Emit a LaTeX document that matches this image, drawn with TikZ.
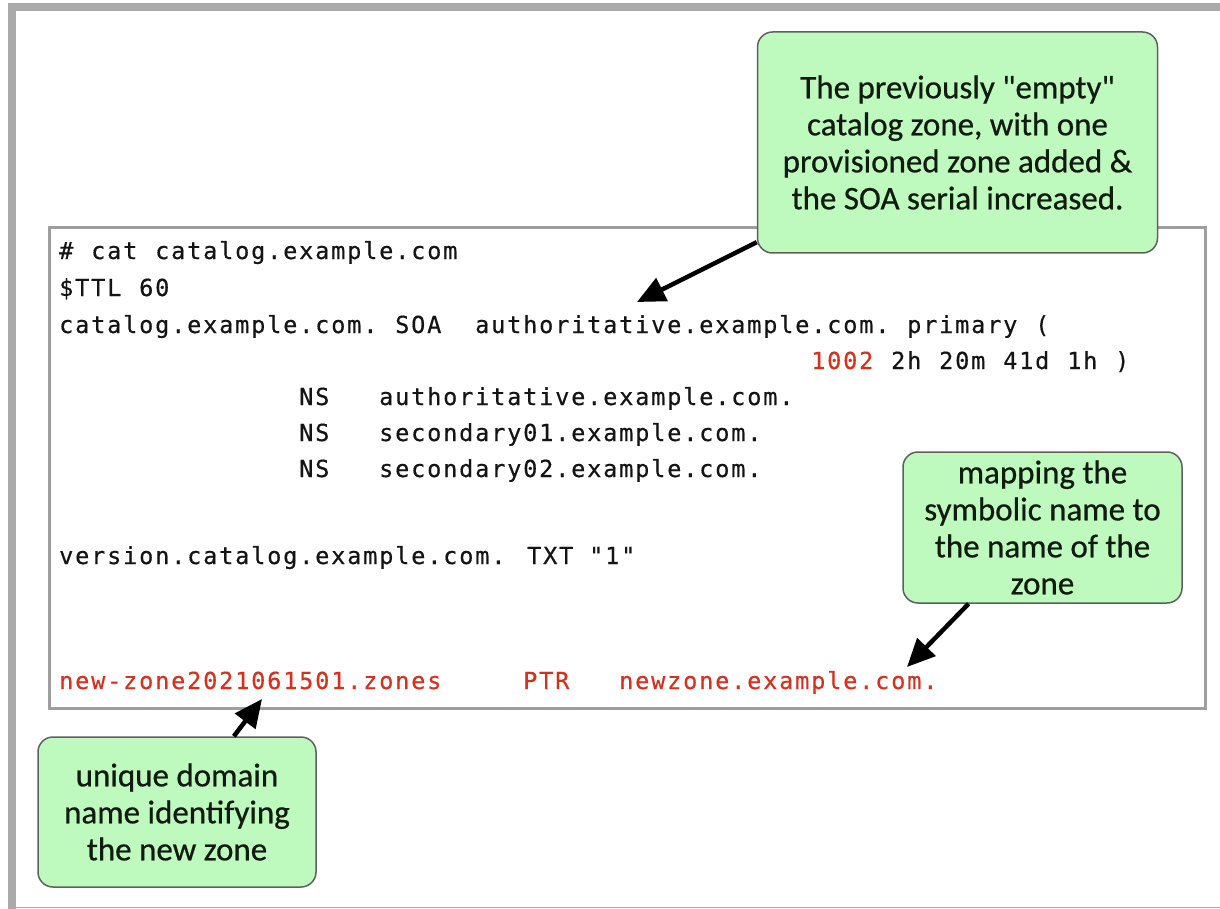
\documentclass[tikz,border=0pt]{standalone}
\usepackage{fontspec}
\usetikzlibrary{arrows.meta}
\newfontfamily\codefont[LetterSpace=7.9,FakeBold=0.5]{DejaVu Sans Mono}
\newfontfamily\notefont[FakeBold=0.6]{Carlito}
\definecolor{framegray}{RGB}{170,170,170}
\definecolor{boxborder}{RGB}{158,158,158}
\definecolor{notefill}{RGB}{190,250,190}
\definecolor{noteborder}{RGB}{95,95,95}
\definecolor{notetext}{RGB}{18,26,18}
\definecolor{codetext}{RGB}{20,20,20}
\definecolor{codered}{RGB}{210,50,30}
\begin{document}
\begin{tikzpicture}[x=1pt,y=-1pt,
  note/.style={draw=noteborder, line width=1.5pt, fill=notefill,
    rounded corners=15pt, align=center, inner sep=0pt, text=notetext,
    font={\notefont\fontsize{33}{37}\selectfont}},
  code/.style={anchor=base west, inner sep=0pt, text=codetext,
    font={\codefont\fontsize{23.5}{27}\selectfont}},
  hot/.style={code, text=codered},
  pointer/.style={draw=black, line width=4.5pt,
    -{Triangle[length=28pt,width=25pt]}}]
\useasboundingbox (0,0) rectangle (1220,909);

% page frame
\fill[framegray] (8,3) rectangle (1220,11);
\fill[framegray] (8,3) rectangle (16,909);
\draw[framegray, line width=1.5pt] (16,907.5) -- (1220,907.5);

% zone file listing
\node[draw=boxborder, line width=3pt, minimum width=1156pt,
  minimum height=480pt, inner sep=0pt] (listing) at (627,468) {};

% character grid: column n starts at 59 + 16n
\def\cx#1{59+#1*16}
\node[code] (l1a) at ({\cx{0}},259) {\#};
\node[code] (l1b) at ({\cx{2}},259) {cat};
\node[code] (l1c) at ({\cx{6}},259) {catalog.example.com};
\node[code] (l2a) at ({\cx{0}},296) {\$TTL};
\node[code] (l2b) at ({\cx{5}},296) {60};
\node[code] (l3a) at ({\cx{0}},333) {catalog.example.com.};
\node[code] (l3b) at ({\cx{21}},333) {SOA};
\node[code] (l3c) at ({\cx{26}},333) {authoritative.example.com.};
\node[code] (l3d) at ({\cx{53}},333) {primary};
\node[code] (l3e) at ({\cx{61}},333) {(};
\node[hot]  (l4a) at ({\cx{47}},369) {1002};
\node[code] (l4b) at ({\cx{52}},369) {2h};
\node[code] (l4c) at ({\cx{55}},369) {20m};
\node[code] (l4d) at ({\cx{59}},369) {41d};
\node[code] (l4e) at ({\cx{63}},369) {1h};
\node[code] (l4f) at ({\cx{66}},369) {)};
\node[code] (l5a) at ({\cx{15}},405) {NS};
\node[code] (l5b) at ({\cx{20}},405) {authoritative.example.com.};
\node[code] (l6a) at ({\cx{15}},441) {NS};
\node[code] (l6b) at ({\cx{20}},441) {secondary01.example.com.};
\node[code] (l7a) at ({\cx{15}},477) {NS};
\node[code] (l7b) at ({\cx{20}},477) {secondary02.example.com.};
\node[code] (l8a) at ({\cx{0}},564) {version.catalog.example.com.};
\node[code] (l8b) at (527,564) {TXT};
\node[code] (l8c) at (589,564) {"1"};
\node[hot]  (l9a) at ({\cx{0}},689) {new-zone2021061501.zones};
\node[hot]  (l9b) at ({\cx{29}},689) {PTR};
\node[hot]  (l9c) at ({\cx{35}},689) {newzone.example.com.};

% callouts
\node[note, minimum width=400pt, minimum height=221pt] (soaNote) at (957.5,142.5)
  {The previously "empty"\\catalog zone, with one\\provisioned zone added \&\\the SOA serial increased.};
\node[note, minimum width=279pt, minimum height=151pt] (ptrNote) at (1042.5,527.5)
  {mapping the\\symbolic name to\\the name of the\\zone};
\node[note, minimum width=278pt, minimum height=150pt] (nameNote) at (177,812)
  {unique domain\\name identifying\\the new zone};

% arrow targets
\coordinate (soaTip) at (637,302);
\coordinate (ptrTip) at (907,667);
\coordinate (nameTip) at (262,699);

\draw[pointer] (soaNote) -- (soaTip);
\draw[pointer] (ptrNote) -- (ptrTip);
\draw[pointer] (nameNote) -- (nameTip);
\end{tikzpicture}
\end{document}
